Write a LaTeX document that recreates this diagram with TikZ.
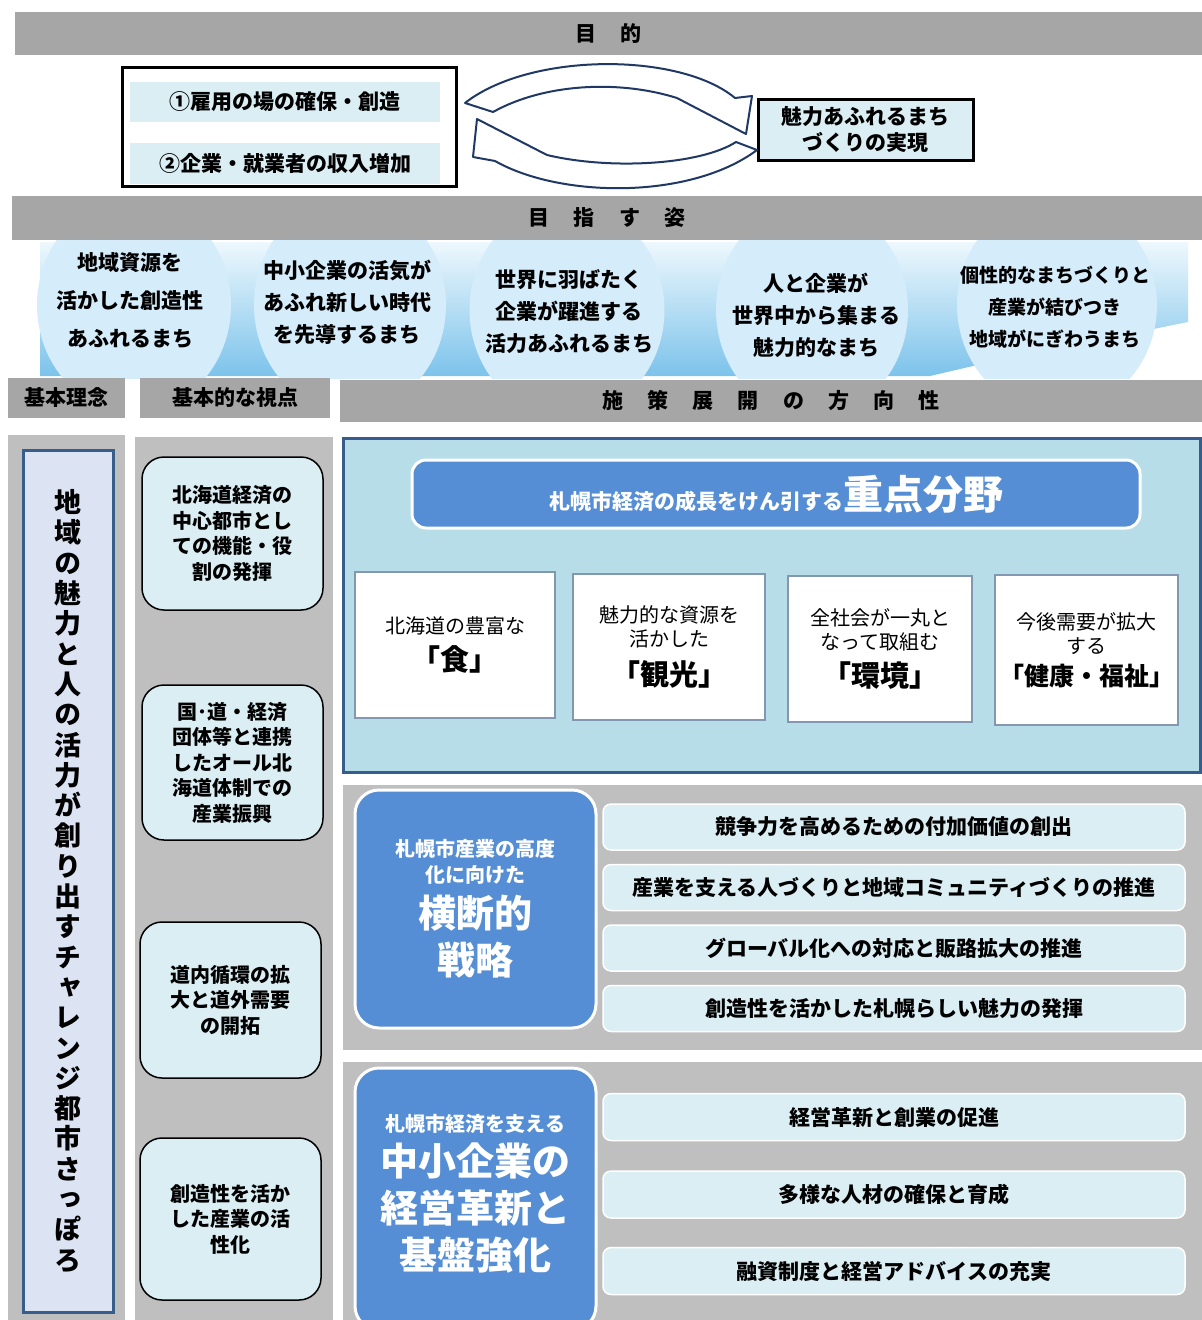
\documentclass[tikz,border=0pt]{standalone}
\usepackage{fontspec}
\setmainfont{Noto Sans CJK JP}
\newfontfamily\jpvert[RawFeature=+vert]{Noto Sans CJK JP}
\usetikzlibrary{positioning,shapes.geometric}
\definecolor{barGray}{HTML}{A6A6A6}
\definecolor{colGray}{HTML}{BFBFBF}
\definecolor{paleCyan}{HTML}{DAEEF3}
\definecolor{panelBlue}{HTML}{B7DEE8}
\definecolor{navy}{HTML}{385D8A}
\definecolor{midBlue}{HTML}{558ED5}
\definecolor{fieldEdge}{HTML}{8497B0}
\definecolor{circleBlue}{HTML}{D5ECFA}
\definecolor{ribbonTop}{HTML}{EEF8FD}
\definecolor{ribbonBot}{HTML}{7CC3EB}
\definecolor{lavender}{HTML}{DCE4F4}
\definecolor{arrowNavy}{HTML}{1F3864}
\newcommand{\jfs}[2]{\fontsize{#1pt}{#2pt}\selectfont}
\newcommand{\gap}{\hspace{1.15em}}

\begin{document}
\begin{tikzpicture}[x=1pt, y=-1pt,
	every node/.style={inner sep=0pt,
    					align=center,
                        font=\bfseries\jfs{21}{26}
                        },
	sz/.style 2 args={minimum width=#1pt, minimum height=#2pt},
	titlebar/.style={fill=barGray},
	colbg/.style={fill=colGray},
	goalbox/.style={draw=black, line width=3pt, fill=white},
	goalitem/.style={fill=paleCyan},
	cyclearrow/.style={draw=arrowNavy, line width=2pt, fill=white, line join=round},
	ribbon/.style={top color=ribbonTop, bottom color=ribbonBot},
	aim/.style={ellipse, fill=circleBlue},
	vertbox/.style={fill=lavender, draw=navy, line width=3pt, font=\jpvert\bfseries\jfs{27}{30.3}},
	viewbox/.style={draw=black, line width=1.5pt, fill=paleCyan, rounded corners=22pt,
	                font=\bfseries\jfs{20}{25.5}},
	panel/.style={fill=panelBlue, draw=navy, line width=3pt},
	keyhead/.style={fill=midBlue, draw=white, line width=3pt, rounded corners=14pt, text=white},
	field/.style={fill=white, draw=fieldEdge, line width=2.5pt, font=\mdseries\jfs{20}{24}},
	strategy/.style={fill=midBlue, draw=white, line width=3pt, rounded corners=24pt, text=white},
	measure/.style={fill=paleCyan, draw=white, line width=1.5pt, rounded corners=8pt, sz={582}{46}}
]
\useasboundingbox[fill=white] (0,0) rectangle (1202,1320);

% purpose
\node (purpose) [titlebar, sz={1187}{43}] at (608.5,33.5) {目\gap 的};
\node (goals) [goalbox, sz={334}{119}] at (289,126.5) {};
\node (goal1) [goalitem, sz={310}{40}] at (285,102) {①雇用の場の確保・創造};
\node (goal2) [goalitem, sz={310}{41}] at (285,163.5) {②企業・就業者の収入増加};
\node (result) [goalbox, fill=paleCyan, sz={215}{61}] at (865.5,129.5) {魅力あふれるまち\\づくりの実現};
\draw[cyclearrow] (465,103) .. controls (530,52) and (680,52) .. (735,98) -- (752,96) -- (746,134)
	-- (677,98) .. controls (620,80) and (545,83) .. (493,112) -- cycle;
\draw[cyclearrow] (757,150) .. controls (690,200) and (560,198) .. (495,161) -- (473,157) -- (477,119)
	-- (547,155) .. controls (610,170) and (700,165) .. (736,142) -- cycle;

% vision
\node (vision) [titlebar, sz={1190}{44}] at (607,218) {目\gap 指\gap す\gap 姿};
\begin{scope}
	\clip (0,240) rectangle (1202,378);
	\path[ribbon] (40,242) -- (1188,242) -- (1188,322) -- (990,362) -- (930,376) -- (40,376) -- cycle;
	\node (aim1) [aim, sz={194}{215}] at (134,305) {};
	\node (aim2) [aim, sz={192}{215}] at (350,305) {};
	\node (aim3) [aim, sz={195}{215}] at (567,310) {};
	\node (aim4) [aim, sz={192}{215}] at (812,310) {};
	\node (aim5) [aim, sz={200}{215}] at (1057,305) {};
\end{scope}
\node (aim1t) at (130,300) {地域資源を\\[12pt]活かした創造性\\[12pt]あふれるまち};
\node (aim2t) at (347,302) {中小企業の活気が\\[6pt]あふれ新しい時代\\[6pt]を先導するまち};
\node (aim3t) at (569,312) {世界に羽ばたく\\[6pt]企業が躍進する\\[6pt]活力あふれるまち};
\node (aim4t) at (816,315) {人と企業が\\[6pt]世界中から集まる\\[6pt]魅力的なまち};
\node (aim5t) [font=\bfseries\jfs{19}{26}] at (1055,307)
	{個性的なまちづくりと\\[6pt]産業が結びつき\\[6pt]地域がにぎわうまち};

% column heads
\node (idea) [titlebar, sz={117}{40}] at (66.5,398) {基本理念};
\node (view) [titlebar, sz={190}{40}] at (235,398) {基本的な視点};
\node (policy) [titlebar, sz={862}{42}] at (771,401) {施\gap 策\gap 展\gap 開\gap の\gap 方\gap 向\gap 性};

% basic idea
\node (ideabg) [colbg, sz={117}{885}] at (66.5,877.5) {};
\node (motto) [vertbox, sz={90}{862}] at (68,881)
	{地\\域\\の\\魅\\力\\と\\人\\の\\活\\力\\が\\創\\り\\出\\す\\チ\\ャ\\レ\\ン\\ジ\\都\\市\\さ\\っ\\ぽ\\ろ};

% basic viewpoints
\node (viewbg) [colbg, sz={198}{883}] at (234,878.5) {};
\node (view1) [viewbox, sz={181}{153}] at (232.5,533.5) {北海道経済の\\中心都市とし\\ての機能・役\\割の発揮};
\node (view2) [viewbox, sz={181}{155}] at (232.5,762.5) {国･道・経済\\団体等と連携\\したオール北\\海道体制での\\産業振興};
\node (view3) [viewbox, sz={181}{156}] at (230.5,1000) {道内循環の拡\\大と道外需要\\の開拓};
\node (view4) [viewbox, sz={181}{162}] at (230.5,1219) {創造性を活か\\した産業の活\\性化};

% key fields
\node (keypanel) [panel, sz={857}{334}] at (771.5,605) {};
\node (keyhead) [keyhead, sz={728}{68}] at (776,494)
	{\jfs{21}{25}札幌市経済の成長をけん引する\jfs{40}{42}重点分野};
\node (food) [field, sz={200}{146}] at (455,645) {北海道の豊富な\\[10pt]\bfseries\jfs{29}{34}「食」};
\node (tourism) [field, sz={192}{146}] at (669,647) {魅力的な資源を\\活かした\\[11pt]\bfseries\jfs{29}{34}「観光」};
\node (environ) [field, sz={184}{146}] at (880,649) {全社会が一丸と\\なって取組む\\[10pt]\bfseries\jfs{29}{34}「環境」};
\node (health) [field, sz={183}{150}] at (1086.5,650) {今後需要が拡大\\する\\[8pt]\bfseries\jfs{25}{30}「健康・福祉」};

% cross strategies
\node (crossbg) [colbg, sz={859}{265}] at (772.5,917.5) {};
\node (cross) [strategy, sz={241}{238}] at (475.5,909)
	{\jfs{20}{26}札幌市産業の高度\\\jfs{20}{26}化に向けた\\[9pt]\jfs{38}{40}横断的\\[10pt]\jfs{38}{40}戦略};
\node (m1) [measure] at (894,827) {競争力を高めるための付加価値の創出};
\node (m2) [measure, below=13pt of m1] {産業を支える人づくりと地域コミュニティづくりの推進};
\node (m3) [measure, below=13pt of m2] {グローバル化への対応と販路拡大の推進};
\node (m4) [measure, below=13pt of m3] {創造性を活かした札幌らしい魅力の発揮};

% small and medium enterprises
\node (smebg) [colbg, sz={859}{258}] at (772.5,1191) {};
\node (sme) [strategy, sz={241}{262}] at (475.5,1199) {};
\node (smetext) [text=white] at (475.5,1194)
	{\jfs{20}{26}札幌市経済を支える\\[8pt]\jfs{38}{40}中小企業の\\[10pt]\jfs{38}{40}経営革新と\\[10pt]\jfs{38}{40}基盤強化};
\node (m5) [measure, sz={582}{47}] at (894,1117) {経営革新と創業の促進};
\node (m6) [measure, sz={582}{47}, below=29pt of m5] {多様な人材の確保と育成};
\node (m7) [measure, sz={582}{47}, below=28pt of m6] {融資制度と経営アドバイスの充実};
\end{tikzpicture}
\end{document}
